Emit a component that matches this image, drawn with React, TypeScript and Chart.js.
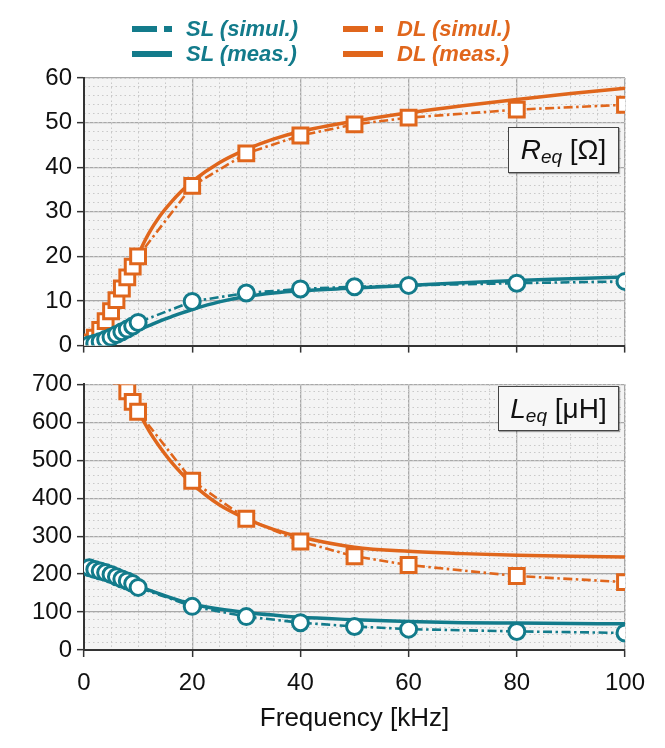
import React, { useEffect, useRef } from "react";
import { Chart, registerables } from "chart.js";

Chart.register(...registerables);

const TEAL = "#137b8b";
const ORANGE = "#e0661c";
const FONT = "'Liberation Sans', Arial, sans-serif";

// frequency points [kHz]
const freqSim = [1, 2, 3, 4, 5, 6, 7, 8, 9, 10, 20, 30, 40, 50, 60, 80, 100];
const freqMeas = [0, 2, 4, 6, 8, 10, 12, 14, 16, 18, 20, 25, 30, 35, 40, 50, 60, 70, 80, 90, 100];

// R_eq [Ohm]
const slReqSim = [0.2, 0.5, 0.9, 1.4, 1.9, 2.5, 3.1, 3.7, 4.4, 5.2, 9.9, 11.8, 12.7, 13.2, 13.5, 14.0, 14.4];
const dlReqSim = [0.7, 1.8, 3.5, 5.5, 7.7, 10.2, 12.8, 15.3, 17.7, 20.0, 35.8, 43.1, 47.1, 49.6, 51.1, 52.9, 54.0];
const slReqMeas = [-0.8, -0.2, 0.6, 1.5, 2.5, 3.5, 4.5, 5.5, 6.4, 7.3, 8.1, 9.8, 11.0, 11.8, 12.3, 12.9, 13.5, 14.1, 14.6, 15.0, 15.4];
const dlReqMeas = [-0.5, 1.6, 4.8, 9.2, 14.5, 20.3, 25.2, 29.0, 32.0, 34.6, 36.8, 41.0, 44.0, 46.3, 48.0, 50.3, 52.2, 53.8, 55.2, 56.5, 57.7];

// L_eq [uH]
const slLeqSim = [217, 212, 208, 204, 199, 193, 187, 182, 175, 165, 115, 88, 72, 62, 55, 49, 45];
const dlLeqSim = [null, null, null, null, null, null, 722, 682, 654, 628, 446, 346, 286, 247, 224, 195, 179];
const slLeqMeas = [214, 208, 201, 193, 184, 170, 158, 148, 138, 129, 121, 108, 99, 92, 86, 80, 75, 72, 71, 70, 69];
const dlLeqMeas = [null, null, null, null, 698, 632, 578, 535, 498, 466, 438, 383, 346, 318, 298, 271, 260, 254, 250, 247, 245];

const freqTicks = [0, 20, 40, 60, 80, 100];
const reqTicks = [0, 10, 20, 30, 40, 50, 60];
const leqTicks = [0, 100, 200, 300, 400, 500, 600, 700];

const seriesLabels = ["SL (simul.)", "SL (meas.)", "DL (simul.)", "DL (meas.)"];
const seriesColors = [TEAL, TEAL, ORANGE, ORANGE];
const seriesDashed = [true, false, true, false];

const toPoints = (xs: number[], ys: (number | null)[]) =>
  xs.map((x, i) => ({ x, y: ys[i] })).filter((p) => p.y !== null);

const plotBg = {
  id: "plotBg",
  beforeDraw(chart: any) {
    const { ctx, chartArea: a } = chart;
    ctx.save();
    ctx.fillStyle = "#f4f4f4";
    ctx.fillRect(a.left, a.top, a.right - a.left, a.bottom - a.top);
    ctx.restore();
  },
};

function simDataset(label: string, xs: number[], ys: (number | null)[], color: string, style: string) {
  return {
    label,
    data: toPoints(xs, ys),
    borderColor: color,
    borderWidth: 2.6,
    borderDash: [9, 3.5, 2.5, 3.5],
    tension: 0,
    pointStyle: style,
    pointRadius: style === "rect" ? 10.5 : 8,
    pointBorderWidth: 3,
    pointBorderColor: color,
    pointBackgroundColor: "#ffffff",
  };
}

function measDataset(label: string, xs: number[], ys: (number | null)[], color: string) {
  return {
    label,
    data: toPoints(xs, ys),
    borderColor: color,
    borderWidth: 3.5,
    tension: 0.4,
    cubicInterpolationMode: "monotone",
    pointRadius: 0,
  };
}

function buildConfig(bottom: boolean): any {
  const yTicks = bottom ? leqTicks : reqTicks;
  const datasets = bottom
    ? [
        simDataset(seriesLabels[0], freqSim, slLeqSim, TEAL, "circle"),
        simDataset(seriesLabels[2], freqSim, dlLeqSim, ORANGE, "rect"),
        measDataset(seriesLabels[1], freqMeas, slLeqMeas, TEAL),
        measDataset(seriesLabels[3], freqMeas, dlLeqMeas, ORANGE),
      ]
    : [
        simDataset(seriesLabels[0], freqSim, slReqSim, TEAL, "circle"),
        simDataset(seriesLabels[2], freqSim, dlReqSim, ORANGE, "rect"),
        measDataset(seriesLabels[1], freqMeas, slReqMeas, TEAL),
        measDataset(seriesLabels[3], freqMeas, dlReqMeas, ORANGE),
      ];
  const yStep = yTicks[1] - yTicks[0];
  const xStep = freqTicks[1] - freqTicks[0];
  const canvasH = bottom ? 383 : 365;
  return {
    type: "line",
    data: { datasets },
    options: {
      responsive: false,
      animation: false,
      events: [],
      layout: { padding: { top: bottom ? 16 : 78, right: 40, bottom: 0, left: 0 } },
      plugins: { legend: { display: false }, tooltip: { enabled: false } },
      scales: {
        x: {
          type: "linear",
          min: freqTicks[0],
          max: freqTicks[freqTicks.length - 1],
          afterFit: (s: any) => {
            s.height = bottom ? 98 : canvasH - 347;
          },
          ticks: {
            display: bottom,
            stepSize: xStep,
            autoSkip: false,
            maxRotation: 0,
            padding: 12,
            color: "#111",
            font: { family: FONT, size: 24 },
          },
          grid: { color: "#a8a8a8", lineWidth: 1.3, tickColor: "#333", tickLength: 7, tickWidth: 1.5 },
          border: { color: "#333", width: 2 },
          title: {
            display: bottom,
            text: "Frequency [kHz]",
            color: "#111",
            font: { family: FONT, size: 26 },
            padding: { top: 0, bottom: 14 },
          },
        },
        xMinor: {
          type: "linear",
          position: "bottom",
          min: freqTicks[0],
          max: freqTicks[freqTicks.length - 1],
          afterFit: (s: any) => {
            s.height = 0;
          },
          ticks: { display: false, stepSize: xStep / 4 },
          grid: { color: "#c9c9c9", lineWidth: 1, drawTicks: false },
          border: { display: false, dash: [1.5, 3] },
        },
        y: {
          type: "linear",
          min: yTicks[0],
          max: yTicks[yTicks.length - 1],
          afterFit: (s: any) => {
            s.width = 84;
          },
          ticks: {
            stepSize: yStep,
            autoSkip: false,
            padding: 5,
            color: "#111",
            font: { family: FONT, size: 24 },
          },
          grid: { color: "#a8a8a8", lineWidth: 1.3, tickColor: "#333", tickLength: 7, tickWidth: 1.5 },
          border: { color: "#333", width: 2 },
        },
        yMinor: {
          type: "linear",
          position: "left",
          min: yTicks[0],
          max: yTicks[yTicks.length - 1],
          afterFit: (s: any) => {
            s.width = 0;
          },
          ticks: { display: false, stepSize: yStep / 5 },
          grid: { color: "#c9c9c9", lineWidth: 1, drawTicks: false },
          border: { display: false, dash: [1.5, 3] },
        },
      },
    },
    plugins: [plotBg],
  };
}

const Panel: React.FC<{ bottom: boolean; top: number; height: number }> = ({ bottom, top, height }) => {
  const canvasRef = useRef<HTMLCanvasElement | null>(null);
  const chartRef = useRef<Chart | null>(null);

  useEffect(() => {
    const ctx = canvasRef.current?.getContext("2d");
    if (!ctx) return;
    if (chartRef.current) chartRef.current.destroy();
    chartRef.current = new Chart(ctx, buildConfig(bottom));
    return () => {
      if (chartRef.current) {
        chartRef.current.destroy();
        chartRef.current = null;
      }
    };
  }, [bottom]);

  return (
    <canvas
      ref={canvasRef}
      width={665}
      height={height}
      style={{ position: "absolute", left: 0, top, width: 665, height }}
    ></canvas>
  );
};

const LegendItem: React.FC<{ i: number; left: number; top: number }> = ({ i, left, top }) => (
  <div style={{ position: "absolute", left, top, height: 24, display: "flex", alignItems: "center" }}>
    {seriesDashed[i] ? (
      <div style={{ display: "flex", width: 40 }}>
        <div style={{ width: 25, height: 6, background: seriesColors[i] }}></div>
        <div style={{ width: 7, height: 6 }}></div>
        <div style={{ width: 8, height: 6, background: seriesColors[i] }}></div>
      </div>
    ) : (
      <div style={{ width: 40, height: 6, background: seriesColors[i] }}></div>
    )}
    <span style={{ marginLeft: 14, fontStyle: "italic", fontWeight: "bold", fontSize: 22, color: seriesColors[i] }}>
      {seriesLabels[i]}
    </span>
  </div>
);

const boxStyle: React.CSSProperties = {
  position: "absolute",
  boxSizing: "border-box",
  border: "1.5px solid #444",
  background: "#f7f7f7",
  boxShadow: "1px 1px 1px rgba(0,0,0,0.35)",
  display: "flex",
  alignItems: "center",
  justifyContent: "center",
  fontSize: 28,
  color: "#111",
};

const App: React.FC = () => {
  return (
    <div style={{ position: "absolute", left: 0, top: 0, width: 665, height: 748, fontFamily: FONT, background: "#fff" }}>
      <Panel bottom={false} top={0} height={365} />
      <Panel bottom={true} top={365} height={383} />
      <LegendItem i={0} left={132} top={17} />
      <LegendItem i={1} left={132} top={42} />
      <LegendItem i={2} left={343} top={17} />
      <LegendItem i={3} left={343} top={42} />
      <div style={{ ...boxStyle, left: 508, top: 127, width: 111, height: 46 }}>
        <i>R</i>
        <i style={{ fontSize: 19, position: "relative", top: 7 }}>eq</i>
        <span>&nbsp;[Ω]</span>
      </div>
      <div style={{ ...boxStyle, left: 498, top: 386, width: 121, height: 45 }}>
        <i>L</i>
        <i style={{ fontSize: 19, position: "relative", top: 7 }}>eq</i>
        <span>&nbsp;[μH]</span>
      </div>
    </div>
  );
};

export default App;
